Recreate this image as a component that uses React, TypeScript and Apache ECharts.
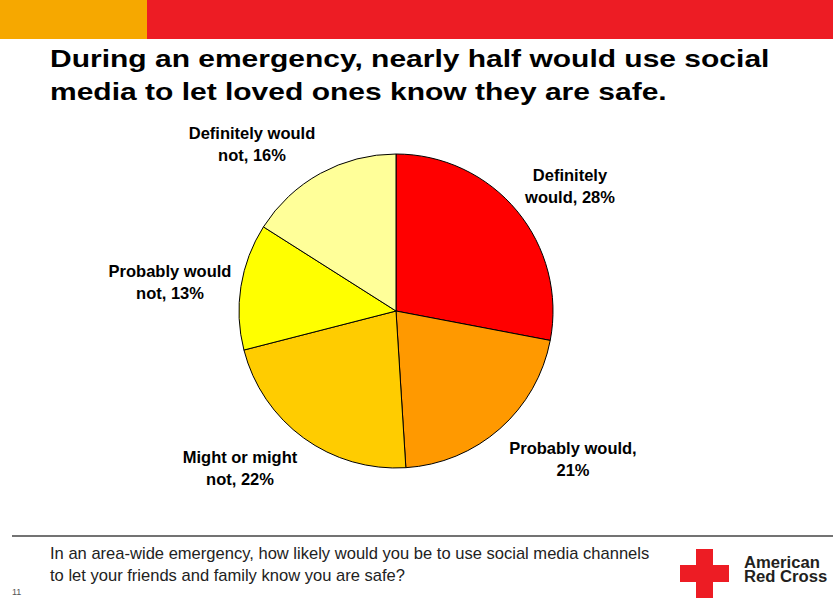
import React, { useEffect, useRef } from "react";
import * as echarts from "echarts";

const categories = [
  "Definitely would",
  "Probably would",
  "Might or might not",
  "Probably would not",
  "Definitely would not",
];
const values = [28, 21, 22, 13, 16];
const labelTexts = [
  "Definitely\nwould, 28%",
  "Probably would,\n21%",
  "Might or might\nnot, 22%",
  "Probably would\nnot, 13%",
  "Definitely would\nnot, 16%",
];
const sliceColors = ["#FF0000", "#FF9900", "#FFCC00", "#FFFF00", "#FFFF99"];
const labelPositions = [
  [570, 186],
  [573, 459],
  [240, 468],
  [170, 282],
  [252, 144],
];

const titleLines = [
  "During an emergency, nearly half would use social",
  "media to let loved ones know they are safe.",
];
const footnoteLines = [
  "In an area-wide emergency, how likely would you be to use social media channels",
  "to let your friends and family know you are safe?",
];

export default function App() {
  const ref = useRef<HTMLDivElement>(null);
  useEffect(() => {
    document.body.style.margin = "0";
    const chart = echarts.init(ref.current!, null, { renderer: "svg" });
    const font = "'Liberation Sans', Arial, sans-serif";
    chart.setOption({
      animation: false,
      backgroundColor: "#FFFFFF",
      graphic: [
        { type: "rect", shape: { x: 0, y: 0, width: 147, height: 39 }, style: { fill: "#F6A800" } },
        { type: "rect", shape: { x: 147, y: 0, width: 686, height: 39 }, style: { fill: "#ED1C24" } },
        ...titleLines.map((t, i) => ({
          type: "text",
          x: 50,
          y: 58.5 + i * 33,
          scaleX: 1.25,
          style: {
            text: t,
            font: `bold 24px ${font}`,
            fill: "#000000",
            align: "left",
            verticalAlign: "middle",
          },
        })),
        { type: "line", shape: { x1: 12, y1: 536, x2: 833, y2: 536 }, style: { stroke: "#444444", lineWidth: 1.5 } },
        ...footnoteLines.map((t, i) => ({
          type: "text",
          x: 50,
          y: 553.5 + i * 22,
          scaleX: 1.035,
          style: {
            text: t,
            font: `16px ${font}`,
            fill: "#222222",
            align: "left",
            verticalAlign: "middle",
          },
        })),
        {
          type: "text",
          x: 12,
          y: 587,
          style: { text: "11", font: `9px ${font}`, fill: "#555555", align: "left", verticalAlign: "top" },
        },
        { type: "rect", shape: { x: 696, y: 549, width: 17, height: 49 }, style: { fill: "#ED1C24" } },
        { type: "rect", shape: { x: 680, y: 565, width: 49, height: 17 }, style: { fill: "#ED1C24" } },
        {
          type: "text",
          x: 744,
          y: 569,
          scaleX: 1.04,
          style: {
            text: "American\nRed Cross",
            font: `bold 16px ${font}`,
            lineHeight: 14,
            fill: "#231F20",
            align: "left",
            verticalAlign: "middle",
          },
        },
      ],
      series: [
        {
          type: "pie",
          center: [396, 311],
          radius: 157,
          startAngle: 90,
          clockwise: true,
          data: categories.map((c, i) => ({
            name: c,
            value: values[i],
            itemStyle: { color: sliceColors[i] },
          })),
          itemStyle: { borderColor: "#000000", borderWidth: 1 },
          label: {
            show: true,
            position: "outside",
            formatter: (p: any) => labelTexts[p.dataIndex],
            fontFamily: font,
            fontWeight: "bold",
            fontSize: 16.5,
            lineHeight: 22,
            color: "#000000",
            align: "center",
          },
          labelLine: { show: false },
          labelLayout: (params: any) => {
            const pos = labelPositions[params.dataIndex];
            return { x: pos[0], y: pos[1], align: "center", verticalAlign: "middle" };
          },
          emphasis: { disabled: true },
        },
      ],
    });
    return () => chart.dispose();
  }, []);
  return <div ref={ref} style={{ position: "absolute", left: 0, top: 0, width: 833, height: 598 }} />;
}
